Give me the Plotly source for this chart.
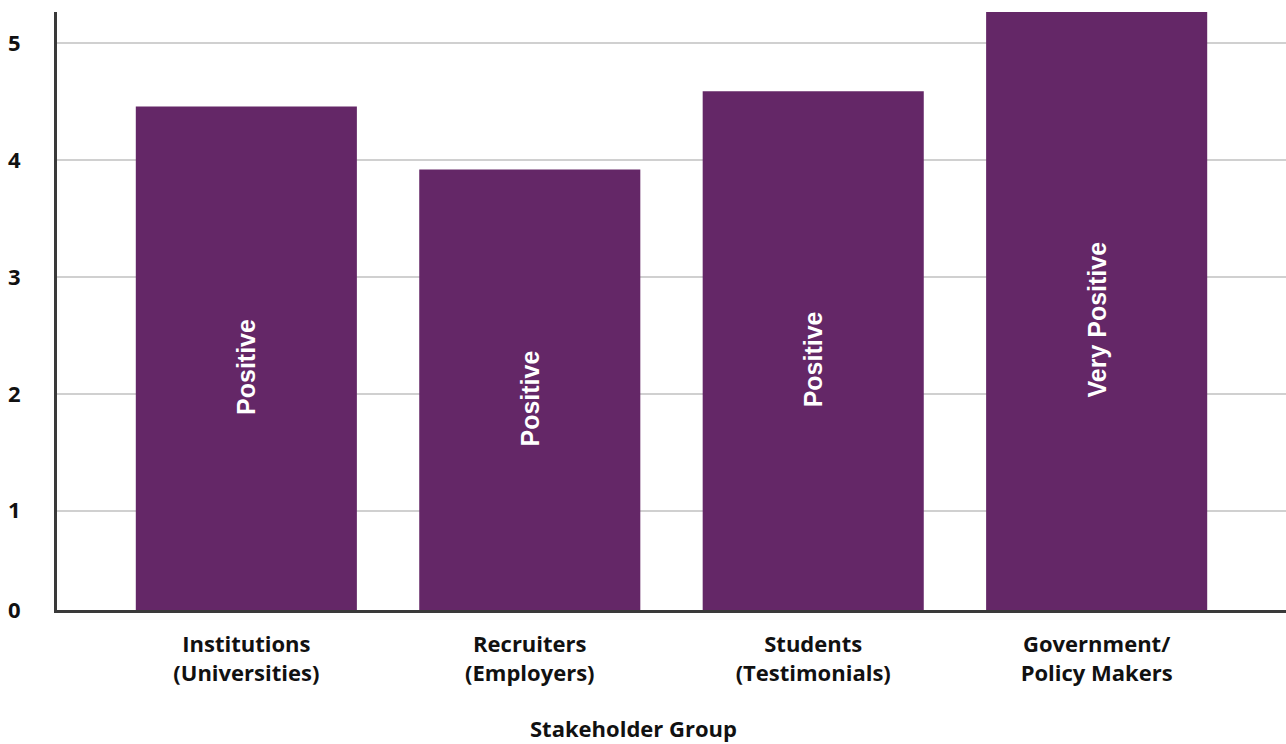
import plotly.graph_objects as go

# Stakeholder sentiment scores
groups = [
    "Institutions<br>(Universities)",
    "Recruiters<br>(Employers)",
    "Students<br>(Testimonials)",
    "Government/<br>Policy Makers",
]
scores = [4.46, 3.92, 4.59, 5.27]
sentiment = ["Positive", "Positive", "Positive", "Very Positive"]

y_tick_values = [0.15, 1, 2, 3, 4, 5]
y_tick_labels = ["0", "1", "2", "3", "4", "5"]

BAR_COLOR = "#642767"
TICK_FONT = dict(family="Open Sans", size=22, color="#111111", weight="bold")

fig = go.Figure(
    go.Bar(
        x=groups,
        y=scores,
        marker=dict(color=BAR_COLOR, line=dict(width=0)),
        width=0.78,
        text=sentiment,
        textposition="inside",
        insidetextanchor="middle",
        textangle=-90,
        textfont=dict(family="Liberation Sans", size=25, color="white", weight="bold"),
        hoverinfo="skip",
    )
)

fig.update_layout(
    width=1286,
    height=744,
    margin=dict(l=57, r=0, t=12, b=134),
    paper_bgcolor="white",
    plot_bgcolor="white",
    showlegend=False,
    xaxis=dict(
        range=[-0.668, 3.668],
        showgrid=False,
        showline=True,
        linecolor="#3a3a3a",
        linewidth=3,
        ticks="",
        tickfont=TICK_FONT,
        ticklabelstandoff=13,
    ),
    yaxis=dict(
        range=[0.15, 5.268],
        tickvals=y_tick_values,
        ticktext=y_tick_labels,
        showgrid=True,
        gridcolor="#d0d0d0",
        gridwidth=2,
        zeroline=False,
        showline=True,
        linecolor="#3a3a3a",
        linewidth=3,
        ticks="",
        tickfont=TICK_FONT,
        ticklabelstandoff=29,
    ),
    annotations=[
        dict(
            text="Stakeholder Group",
            xref="paper",
            yref="paper",
            x=0.4687,
            y=-0.197,
            xanchor="center",
            yanchor="middle",
            showarrow=False,
            font=TICK_FONT,
        )
    ],
)

fig.write_html("out.html")
